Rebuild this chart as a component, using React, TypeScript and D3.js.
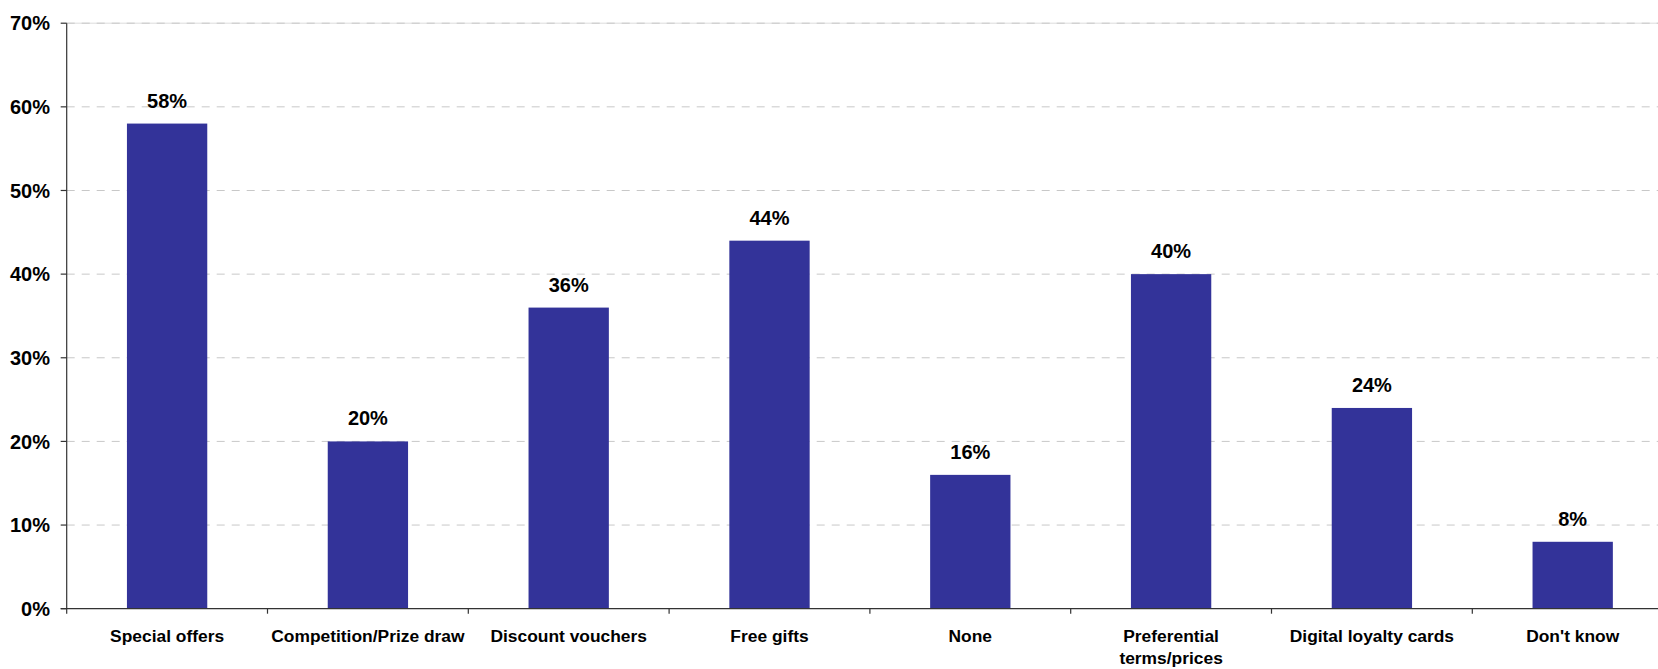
import React from "react";
import * as d3 from "d3";

const categories = [
  "Special offers",
  "Competition/Prize draw",
  "Discount vouchers",
  "Free gifts",
  "None",
  "Preferential\nterms/prices",
  "Digital loyalty cards",
  "Don't know",
];
const values = [58, 20, 36, 44, 16, 40, 24, 8];
const yTicks = [0, 10, 20, 30, 40, 50, 60, 70];

const W = 1658;
const H = 669;
const FONT = "'Liberation Sans', Arial, Helvetica, sans-serif";

export default function App() {
  const left = 66.7;
  const step = 200.8;
  const top = 23.2;
  const bottom = 608.7;

  const x = d3
    .scaleBand<string>()
    .domain(categories)
    .range([left, left + step * categories.length])
    .paddingInner(0.6)
    .paddingOuter(0.3);
  const y = d3.scaleLinear().domain([0, 70]).range([bottom, top]);

  const boundaries = d3.range(categories.length + 1).map((i) => left + i * x.step());

  return (
    <div style={{ position: "absolute", left: 0, top: 0 }}>
      <svg width={W} height={H} style={{ display: "block", background: "#fff" }}>
        {/* gridlines */}
        {yTicks
          .filter((t) => t > 0)
          .map((t) => (
            <g key={"g" + t}>
              {t === 70 && (
                <line x1={left} x2={W} y1={y(t)} y2={y(t)} stroke="#dcdcdc" strokeWidth={1} />
              )}
              <line
                x1={left}
                x2={W}
                y1={y(t)}
                y2={y(t)}
                stroke="#c8c8c8"
                strokeWidth={1}
                strokeDasharray="8,7"
              />
            </g>
          ))}
        {/* bars */}
        {categories.map((c, i) => (
          <rect
            key={"b" + i}
            x={x(c)}
            y={y(values[i])}
            width={x.bandwidth()}
            height={y(0) - y(values[i])}
            fill="#333399"
          />
        ))}
        {/* value labels */}
        {categories.map((c, i) => (
          <text
            key={"v" + i}
            x={(x(c) as number) + x.bandwidth() / 2}
            y={y(values[i]) - 16}
            textAnchor="middle"
            fontFamily={FONT}
            fontWeight="bold"
            fontSize={20}
            fill="#000"
          >
            {values[i] + "%"}
          </text>
        ))}
        {/* y axis */}
        <line x1={left} x2={left} y1={top} y2={bottom} stroke="#333" strokeWidth={1.2} />
        {yTicks.map((t) => (
          <g key={"yt" + t}>
            <line x1={left - 6} x2={left} y1={y(t)} y2={y(t)} stroke="#333" strokeWidth={1.2} />
            <text
              x={50}
              y={y(t)}
              dy="0.36em"
              textAnchor="end"
              fontFamily={FONT}
              fontWeight="bold"
              fontSize={20}
              fill="#000"
            >
              {t + "%"}
            </text>
          </g>
        ))}
        {/* x axis */}
        <line x1={left - 6} x2={W} y1={bottom} y2={bottom} stroke="#333" strokeWidth={1.2} />
        {boundaries.map((bx, i) => (
          <line key={"xt" + i} x1={bx} x2={bx} y1={bottom} y2={bottom + 5} stroke="#333" strokeWidth={1.2} />
        ))}
        {categories.map((c, i) => {
          const lines = c.split("\n");
          const cx = (x(c) as number) + x.bandwidth() / 2;
          return (
            <text
              key={"c" + i}
              x={cx}
              y={641.5}
              textAnchor="middle"
              fontFamily={FONT}
              fontWeight="bold"
              fontSize={17.4}
              fill="#000"
            >
              {lines.map((l, j) => (
                <tspan key={j} x={cx} dy={j === 0 ? 0 : 22.5}>
                  {l}
                </tspan>
              ))}
            </text>
          );
        })}
      </svg>
    </div>
  );
}
